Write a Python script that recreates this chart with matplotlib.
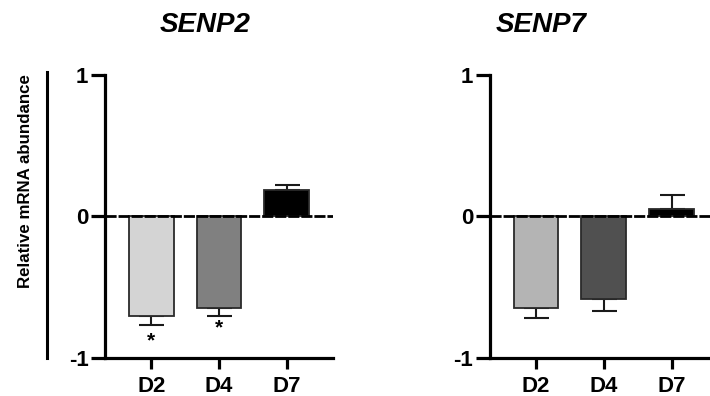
import matplotlib.pyplot as plt
from matplotlib.lines import Line2D

plt.rcParams['font.family'] = ['Liberation Sans', 'DejaVu Sans']

# data
days = ["D2", "D4", "D7"]

senp2_mean = [-0.70, -0.645, 0.19]
senp2_err = [0.07, 0.055, 0.03]
senp2_colors = ["#d4d4d4", "#808080", "#000000"]
senp2_stars = ["*", "*", ""]
senp2_star_y = [-0.88, -0.79, 0]

senp7_mean = [-0.645, -0.58, 0.05]
senp7_err = [0.07, 0.085, 0.10]
senp7_colors = ["#b4b4b4", "#505050", "#000000"]

fig = plt.figure(figsize=(7.1, 3.96), dpi=100)

ax1 = fig.add_axes([0.148, 0.096, 0.321, 0.715])
ax2 = fig.add_axes([0.690, 0.096, 0.321, 0.715])


def draw_panel(ax, means, errs, colors):
    x = list(range(len(days)))
    ax.bar(x, means, width=0.66, color=colors, edgecolor="#2a2a2a", linewidth=1.3, zorder=2)
    # one-sided error bars, pointing away from zero
    for xi, m, e in zip(x, means, errs):
        if m < 0:
            yerr = [[e], [0]]
        else:
            yerr = [[0], [e]]
        ax.errorbar(xi, m, yerr=yerr, fmt="none", ecolor="#1a1a1a",
                    elinewidth=1.5, capsize=9, capthick=1.5, zorder=1)
    ax.axhline(0, color="black", linewidth=2, linestyle=(0, (4, 0.7)), zorder=3)
    ax.set_xlim(-0.68, 2.68)
    ax.set_ylim(-1, 1)
    ax.set_yticks([-1, 0, 1])
    ax.set_yticklabels(["-1", "0", "1"])
    ax.set_xticks(x)
    ax.set_xticklabels(days)
    for s in ["top", "right"]:
        ax.spines[s].set_visible(False)
    for s in ["left", "bottom"]:
        ax.spines[s].set_linewidth(2.3)
    ax.tick_params(axis="y", length=10, width=2.3, pad=2, labelsize=16)
    ax.tick_params(axis="x", length=8, width=2.3, pad=5, labelsize=16)
    for lab in ax.get_xticklabels() + ax.get_yticklabels():
        lab.set_fontweight("bold")


draw_panel(ax1, senp2_mean, senp2_err, senp2_colors)
draw_panel(ax2, senp7_mean, senp7_err, senp7_colors)

for xi, s, sy in zip(range(len(days)), senp2_stars, senp2_star_y):
    if s:
        ax1.text(xi, sy, s, ha="center", va="center", fontsize=15, fontweight="bold")

fig.text(0.289, 0.937, "SENP2", ha="center", va="center", fontsize=20,
         fontweight="bold", fontstyle="italic")
fig.text(0.762, 0.937, "SENP7", ha="center", va="center", fontsize=20,
         fontweight="bold", fontstyle="italic")

fig.text(0.036, 0.543, "Relative mRNA abundance", rotation=90, ha="center",
         va="center", fontsize=12.2, fontweight="bold")
fig.add_artist(Line2D([0.066, 0.066], [1 - 72 / 396, 1 - 358 / 396],
                      color="black", linewidth=2.2, transform=fig.transFigure))

plt.savefig("out.png", dpi=100)
